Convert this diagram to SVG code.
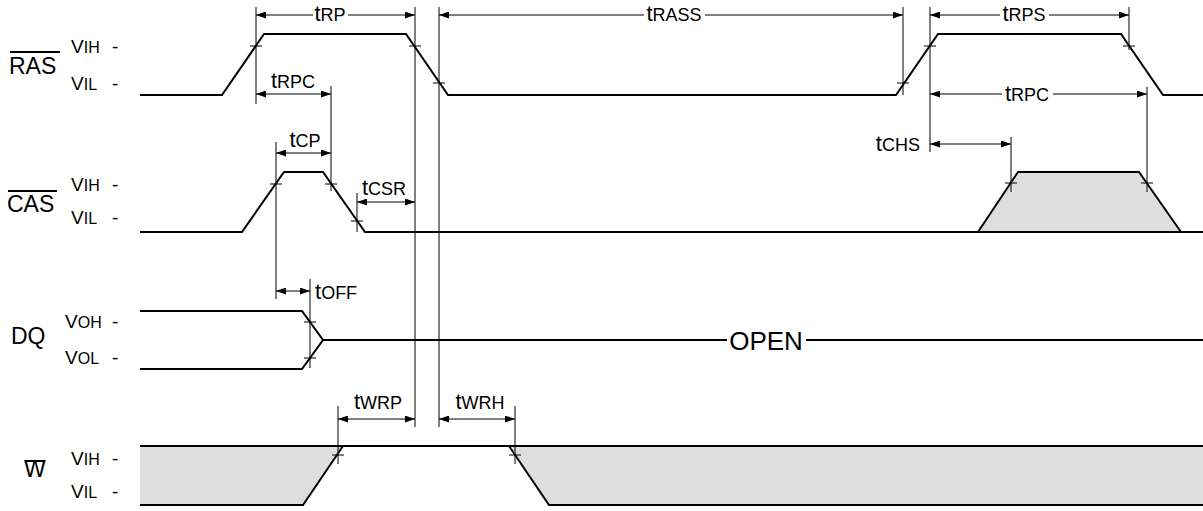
<svg xmlns="http://www.w3.org/2000/svg" width="1203" height="511" viewBox="0 0 1203 511">
<defs>
<marker id="arr" viewBox="0 0 10 7" refX="10" refY="3.5" markerWidth="10" markerHeight="7" markerUnits="userSpaceOnUse" orient="auto-start-reverse">
<path d="M0,0 L10,3.5 L0,7 z" fill="#000"/>
</marker>
<style>
.sig{fill:none;stroke:#000;stroke-width:2;stroke-linejoin:miter}
.ext{stroke:#000;stroke-width:1;fill:none}
.dim{stroke:#000;stroke-width:1;fill:none}
.da{marker-end:url(#arr)}
.ds{marker-start:url(#arr)}
.dd{marker-start:url(#arr);marker-end:url(#arr)}
.fill{fill:#dedede;stroke:none}
.bar{stroke:#000;stroke-width:2}
text{font-family:"Liberation Sans",Arial,Helvetica,sans-serif;fill:#000}
.big{font-size:23px}
.t{font-size:22px}
.s{font-size:18px}
.v{font-size:19px}
.vs{font-size:16px}
.open{font-size:26px}
</style>
</defs>
<rect width="1203" height="511" fill="#fff"/>

<g id="RAS">
<line class="bar" x1="10" y1="52" x2="60" y2="52"/>
<text class="big" x="9" y="74">RAS</text>
<text class="v" x="71" y="53">V<tspan class="vs">IH</tspan><tspan x="112">-</tspan></text>
<text class="v" x="71" y="90">V<tspan class="vs">IL</tspan><tspan x="112">-</tspan></text>
<polyline class="sig" points="140,95 222,95 264,34 406,34 448,95 896,95 938,34 1121,34 1163,95 1203,95"/>
</g>

<g id="CAS">
<line class="bar" x1="8" y1="191" x2="57" y2="191"/>
<text class="big" x="7" y="212">CAS</text>
<text class="v" x="71" y="191">V<tspan class="vs">IH</tspan><tspan x="112">-</tspan></text>
<text class="v" x="71" y="224">V<tspan class="vs">IL</tspan><tspan x="112">-</tspan></text>
<polygon class="fill" points="978,232 1018,172 1139,172 1181,232"/>
<polyline class="sig" points="140,232 242,232 284,172 323,172 365,232 1203,232"/>
<polyline class="sig" points="978,232 1018,172 1139,172 1181,232"/>
</g>

<g id="DQ">
<text class="big" x="11" y="344">DQ</text>
<text class="v" x="65" y="328">V<tspan class="vs">OH</tspan><tspan x="112">-</tspan></text>
<text class="v" x="65" y="364">V<tspan class="vs">OL</tspan><tspan x="112">-</tspan></text>
<polyline class="sig" points="140,311 302,311 323,340 302,369 140,369"/>
<line class="sig" x1="323" y1="340" x2="727" y2="340"/>
<line class="sig" x1="806" y1="340" x2="1203" y2="340"/>
<text class="open" x="766" y="350" text-anchor="middle">OPEN</text>
</g>

<g id="W">
<line class="bar" x1="25" y1="461" x2="45" y2="461"/>
<text class="big" x="24" y="477">W</text>
<text class="v" x="71" y="465">V<tspan class="vs">IH</tspan><tspan x="112">-</tspan></text>
<text class="v" x="71" y="498">V<tspan class="vs">IL</tspan><tspan x="112">-</tspan></text>
<polygon class="fill" points="140,446 343,446 303,505 140,505"/>
<polygon class="fill" points="509,446 1203,446 1203,505 549,505"/>
<line class="sig" x1="140" y1="446" x2="1203" y2="446"/>
<polyline class="sig" points="140,505 303,505 343,446"/>
<polyline class="sig" points="509,446 549,505 1203,505"/>
</g>

<g id="connectors">
<line class="ext" x1="256" y1="7" x2="256" y2="104"/>
<line class="ext" x1="331" y1="86" x2="331" y2="191"/>
<line class="ext" x1="276" y1="142" x2="276" y2="299"/>
<line class="ext" x1="357" y1="193" x2="357" y2="232"/>
<line class="ext" x1="310" y1="279" x2="310" y2="368"/>
<line class="ext" x1="415" y1="7" x2="415" y2="427"/>
<line class="ext" x1="439" y1="7" x2="439" y2="427"/>
<line class="ext" x1="903" y1="7" x2="903" y2="95"/>
<line class="ext" x1="930" y1="7" x2="930" y2="152"/>
<line class="ext" x1="1129" y1="7" x2="1129" y2="50"/>
<line class="ext" x1="1011" y1="137" x2="1011" y2="192"/>
<line class="ext" x1="1147" y1="87" x2="1147" y2="192"/>
<line class="ext" x1="338" y1="406" x2="338" y2="464"/>
<line class="ext" x1="515" y1="406" x2="515" y2="464"/>
<path class="ext" d="M250,46h12 M409,46h12 M433,83h12 M897,83h12 M924,46h12 M1123,46h12 M270,184h12 M325,184h12 M351,221h12 M1005,183h12 M1141,183h12 M304,322h12 M304,358h12 M332,455h12 M509,455h12"/>
<line class="dim ds" x1="256" y1="15" x2="313" y2="15"/>
<line class="dim da" x1="348" y1="15" x2="415" y2="15"/>
<line class="dim ds" x1="439" y1="15" x2="644" y2="15"/>
<line class="dim da" x1="705" y1="15" x2="903" y2="15"/>
<line class="dim ds" x1="930" y1="15" x2="1000" y2="15"/>
<line class="dim da" x1="1049" y1="15" x2="1129" y2="15"/>
<line class="dim dd" x1="256" y1="94" x2="331" y2="94"/>
<line class="dim ds" x1="930" y1="94" x2="1002" y2="94"/>
<line class="dim da" x1="1053" y1="94" x2="1147" y2="94"/>
<line class="dim dd" x1="276" y1="153" x2="331" y2="153"/>
<line class="dim dd" x1="357" y1="202" x2="415" y2="202"/>
<line class="dim dd" x1="930" y1="144" x2="1011" y2="144"/>
<line class="dim dd" x1="276" y1="291" x2="310" y2="291"/>
<line class="dim dd" x1="338" y1="419" x2="415" y2="419"/>
<line class="dim dd" x1="439" y1="419" x2="515" y2="419"/>
</g>

<g id="labels">
<text class="t" x="330" y="21" text-anchor="middle">t<tspan class="s">RP</tspan></text>
<text class="t" x="674" y="21" text-anchor="middle">t<tspan class="s">RASS</tspan></text>
<text class="t" x="1024" y="21" text-anchor="middle">t<tspan class="s">RPS</tspan></text>
<text class="t" x="293" y="88" text-anchor="middle">t<tspan class="s">RPC</tspan></text>
<text class="t" x="1027" y="101" text-anchor="middle">t<tspan class="s">RPC</tspan></text>
<text class="t" x="305" y="147" text-anchor="middle">t<tspan class="s">CP</tspan></text>
<text class="t" x="384" y="195" text-anchor="middle">t<tspan class="s">CSR</tspan></text>
<text class="t" x="920" y="151" text-anchor="end">t<tspan class="s">CHS</tspan></text>
<text class="t" x="315" y="299">t<tspan class="s">OFF</tspan></text>
<text class="t" x="378" y="409" text-anchor="middle">t<tspan class="s">WRP</tspan></text>
<text class="t" x="480" y="409" text-anchor="middle">t<tspan class="s">WRH</tspan></text>
</g>
</svg>
